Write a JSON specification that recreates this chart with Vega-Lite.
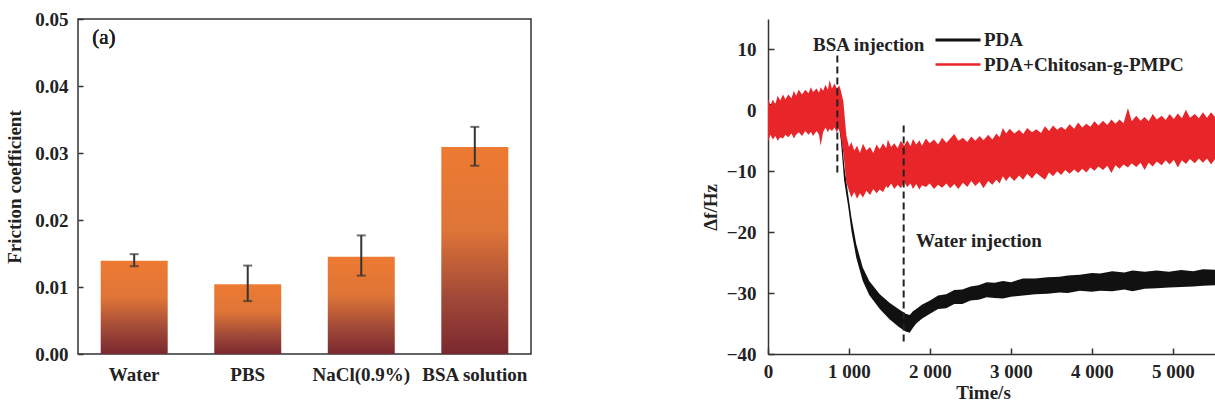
{
  "$schema": "https://vega.github.io/schema/vega-lite/v6.json",
  "background": "white",
  "padding": {"left": 5, "top": 9, "right": 0, "bottom": 0},
  "config": {
    "font": "Liberation Serif, Times New Roman, DejaVu Serif, serif",
    "view": {"stroke": "#333", "strokeWidth": 1.5},
    "text": {"font": "Liberation Serif, Times New Roman, DejaVu Serif, serif"},
    "axis": {
      "labelFont": "Liberation Serif, Times New Roman, DejaVu Serif, serif", "labelFontWeight": "bold", "labelFontSize": 19, "labelColor": "#222",
      "titleFont": "Liberation Serif, Times New Roman, DejaVu Serif, serif", "titleFontWeight": "bold", "titleFontSize": 19, "titleColor": "#222",
      "grid": false, "domainColor": "#333", "tickColor": "#333", "domainWidth": 1.5, "tickWidth": 1.5,
      "labelFlush": false, "labelOverlap": false
    },
    "legend": {
      "labelFont": "Liberation Serif, Times New Roman, DejaVu Serif, serif", "labelFontSize": 19, "labelFontWeight": "bold",
      "labelColor": "#222", "symbolType": "stroke", "symbolSize": 2025, "symbolStrokeWidth": 3, "labelOffset": 2,
      "padding": 0, "labelLimit": 400
    }
  },
  "datasets": {
    "friction": [
      {"medium": "Water", "mean": 0.0139, "lo": 0.0131, "hi": 0.0149},
      {"medium": "PBS", "mean": 0.0104, "lo": 0.0079, "hi": 0.0132},
      {"medium": "NaCl(0.9%)", "mean": 0.0145, "lo": 0.0117, "hi": 0.0177},
      {"medium": "BSA solution", "mean": 0.0309, "lo": 0.0281, "hi": 0.0339}
    ],
    "pda": [
      {"t": 0, "lo": -2.0, "hi": 1.0}, {"t": 400, "lo": -1.5, "hi": 1.5}, {"t": 800, "lo": -1.0, "hi": 2.0},
      {"t": 870, "lo": -2.0, "hi": 1.0}, {"t": 900, "lo": -5.0, "hi": -2.0}, {"t": 940, "lo": -11.5, "hi": -9.0},
      {"t": 990, "lo": -15.8, "hi": -13.8}, {"t": 1030, "lo": -19.8, "hi": -17.6}, {"t": 1090, "lo": -24.2, "hi": -22.0},
      {"t": 1170, "lo": -28.0, "hi": -25.8}, {"t": 1250, "lo": -30.3, "hi": -28.0}, {"t": 1380, "lo": -32.6, "hi": -30.2},
      {"t": 1500, "lo": -34.3, "hi": -31.6}, {"t": 1620, "lo": -35.6, "hi": -32.7}, {"t": 1700, "lo": -36.3, "hi": -33.4},
      {"t": 1750, "lo": -36.5, "hi": -33.6}, {"t": 1790, "lo": -35.7, "hi": -33.0}, {"t": 1830, "lo": -35.0, "hi": -32.6},
      {"t": 1900, "lo": -34.2, "hi": -31.9}, {"t": 2000, "lo": -33.4, "hi": -31.2}, {"t": 2100, "lo": -32.6, "hi": -30.4},
      {"t": 2200, "lo": -32.5, "hi": -30.2}, {"t": 2300, "lo": -31.8, "hi": -29.5}, {"t": 2400, "lo": -31.8, "hi": -29.4},
      {"t": 2500, "lo": -31.2, "hi": -28.9}, {"t": 2600, "lo": -31.1, "hi": -28.7}, {"t": 2700, "lo": -30.7, "hi": -28.2},
      {"t": 2800, "lo": -30.8, "hi": -28.3}, {"t": 2900, "lo": -30.9, "hi": -28.0}, {"t": 3000, "lo": -30.6, "hi": -28.2},
      {"t": 3150, "lo": -30.4, "hi": -27.6}, {"t": 3300, "lo": -30.2, "hi": -27.6}, {"t": 3450, "lo": -30.1, "hi": -27.4},
      {"t": 3600, "lo": -29.9, "hi": -27.3}, {"t": 3700, "lo": -30.0, "hi": -27.1}, {"t": 3850, "lo": -29.6, "hi": -27.0},
      {"t": 4000, "lo": -29.8, "hi": -26.7}, {"t": 4100, "lo": -29.6, "hi": -26.8}, {"t": 4250, "lo": -29.7, "hi": -26.4},
      {"t": 4400, "lo": -29.4, "hi": -26.6}, {"t": 4500, "lo": -29.7, "hi": -26.3}, {"t": 4650, "lo": -29.3, "hi": -26.5},
      {"t": 4800, "lo": -29.2, "hi": -26.3}, {"t": 4950, "lo": -29.1, "hi": -26.5}, {"t": 5100, "lo": -29.0, "hi": -26.2},
      {"t": 5250, "lo": -28.9, "hi": -26.4}, {"t": 5370, "lo": -28.8, "hi": -26.1}, {"t": 5556, "lo": -28.7, "hi": -26.2}
    ],
    "pmpc": [
      {"t": 0, "lo": -5.2, "hi": 2.0}, {"t": 30, "lo": -4.0, "hi": 0.8}, {"t": 60, "lo": -4.8, "hi": 1.8},
      {"t": 90, "lo": -4.2, "hi": 1.0}, {"t": 120, "lo": -5.0, "hi": 2.4}, {"t": 150, "lo": -4.4, "hi": 1.6},
      {"t": 185, "lo": -4.6, "hi": 2.6}, {"t": 215, "lo": -4.0, "hi": 1.8}, {"t": 250, "lo": -4.4, "hi": 2.6},
      {"t": 290, "lo": -3.8, "hi": 2.0}, {"t": 320, "lo": -4.6, "hi": 3.2}, {"t": 346, "lo": -4.0, "hi": 2.4},
      {"t": 380, "lo": -3.6, "hi": 3.4}, {"t": 420, "lo": -4.2, "hi": 2.6}, {"t": 460, "lo": -3.4, "hi": 3.4},
      {"t": 500, "lo": -4.0, "hi": 2.8}, {"t": 530, "lo": -3.5, "hi": 3.8}, {"t": 556, "lo": -4.2, "hi": 3.0},
      {"t": 600, "lo": -3.4, "hi": 3.6}, {"t": 630, "lo": -4.0, "hi": 2.9}, {"t": 650, "lo": -5.8, "hi": 3.8},
      {"t": 680, "lo": -3.6, "hi": 3.2}, {"t": 710, "lo": -2.8, "hi": 4.2}, {"t": 740, "lo": -3.6, "hi": 3.4},
      {"t": 760, "lo": -3.0, "hi": 5.0}, {"t": 790, "lo": -3.4, "hi": 3.6}, {"t": 820, "lo": -2.8, "hi": 4.4},
      {"t": 850, "lo": -3.6, "hi": 3.6}, {"t": 880, "lo": -2.9, "hi": 4.1}, {"t": 900, "lo": -4.5, "hi": 3.2},
      {"t": 930, "lo": -7.0, "hi": 1.5}, {"t": 967, "lo": -11.8, "hi": -4.1}, {"t": 1000, "lo": -13.2, "hi": -6.0},
      {"t": 1029, "lo": -14.3, "hi": -5.2}, {"t": 1065, "lo": -13.4, "hi": -6.6}, {"t": 1100, "lo": -14.5, "hi": -5.8},
      {"t": 1135, "lo": -13.6, "hi": -7.0}, {"t": 1173, "lo": -14.3, "hi": -5.5}, {"t": 1215, "lo": -13.2, "hi": -6.6},
      {"t": 1260, "lo": -13.9, "hi": -6.0}, {"t": 1300, "lo": -12.9, "hi": -7.0}, {"t": 1340, "lo": -13.6, "hi": -5.6},
      {"t": 1379, "lo": -13.0, "hi": -6.4}, {"t": 1420, "lo": -13.4, "hi": -5.4}, {"t": 1460, "lo": -12.4, "hi": -6.2},
      {"t": 1480, "lo": -12.8, "hi": -4.8}, {"t": 1520, "lo": -12.0, "hi": -6.0}, {"t": 1560, "lo": -12.9, "hi": -5.4},
      {"t": 1600, "lo": -12.2, "hi": -6.2}, {"t": 1640, "lo": -12.8, "hi": -5.0}, {"t": 1680, "lo": -11.8, "hi": -5.8},
      {"t": 1720, "lo": -12.6, "hi": -4.9}, {"t": 1760, "lo": -12.0, "hi": -5.9}, {"t": 1790, "lo": -12.9, "hi": -4.7},
      {"t": 1830, "lo": -12.1, "hi": -5.6}, {"t": 1870, "lo": -13.0, "hi": -4.9}, {"t": 1900, "lo": -12.3, "hi": -5.8},
      {"t": 1950, "lo": -12.6, "hi": -4.6}, {"t": 1996, "lo": -12.0, "hi": -5.4}, {"t": 2050, "lo": -12.9, "hi": -4.8},
      {"t": 2100, "lo": -12.2, "hi": -5.6}, {"t": 2150, "lo": -12.7, "hi": -4.5}, {"t": 2202, "lo": -12.0, "hi": -5.3},
      {"t": 2250, "lo": -12.8, "hi": -4.6}, {"t": 2300, "lo": -12.1, "hi": -3.9}, {"t": 2350, "lo": -12.9, "hi": -5.0},
      {"t": 2407, "lo": -11.9, "hi": -4.5}, {"t": 2460, "lo": -12.6, "hi": -5.2}, {"t": 2510, "lo": -11.6, "hi": -4.3},
      {"t": 2560, "lo": -12.4, "hi": -5.0}, {"t": 2613, "lo": -11.7, "hi": -4.2}, {"t": 2660, "lo": -12.8, "hi": -4.9},
      {"t": 2719, "lo": -11.6, "hi": -4.0}, {"t": 2770, "lo": -12.2, "hi": -4.8}, {"t": 2819, "lo": -11.4, "hi": -3.8},
      {"t": 2860, "lo": -12.0, "hi": -4.4}, {"t": 2900, "lo": -10.8, "hi": -2.9}, {"t": 2940, "lo": -11.6, "hi": -3.8},
      {"t": 2984, "lo": -10.8, "hi": -3.0}, {"t": 3040, "lo": -11.6, "hi": -3.8}, {"t": 3100, "lo": -10.7, "hi": -3.2},
      {"t": 3150, "lo": -11.4, "hi": -3.9}, {"t": 3200, "lo": -10.4, "hi": -2.9}, {"t": 3260, "lo": -11.2, "hi": -3.6},
      {"t": 3313, "lo": -10.3, "hi": -3.1}, {"t": 3370, "lo": -10.9, "hi": -3.7}, {"t": 3420, "lo": -11.4, "hi": -2.6},
      {"t": 3470, "lo": -10.2, "hi": -3.4}, {"t": 3520, "lo": -10.8, "hi": -2.5}, {"t": 3570, "lo": -10.0, "hi": -3.2},
      {"t": 3620, "lo": -10.6, "hi": -2.7}, {"t": 3670, "lo": -9.8, "hi": -3.2}, {"t": 3724, "lo": -10.4, "hi": -2.3},
      {"t": 3780, "lo": -9.7, "hi": -3.0}, {"t": 3830, "lo": -10.3, "hi": -2.0}, {"t": 3880, "lo": -9.6, "hi": -2.8},
      {"t": 3930, "lo": -10.2, "hi": -2.2}, {"t": 3980, "lo": -9.4, "hi": -2.7}, {"t": 4030, "lo": -9.9, "hi": -1.8},
      {"t": 4080, "lo": -9.2, "hi": -2.5}, {"t": 4136, "lo": -9.8, "hi": -1.7}, {"t": 4190, "lo": -9.1, "hi": -2.4},
      {"t": 4240, "lo": -10.3, "hi": -1.5}, {"t": 4290, "lo": -9.0, "hi": -2.2}, {"t": 4340, "lo": -9.6, "hi": -1.5},
      {"t": 4390, "lo": -8.9, "hi": -2.1}, {"t": 4444, "lo": -9.4, "hi": 0.4}, {"t": 4490, "lo": -8.7, "hi": -1.8},
      {"t": 4547, "lo": -9.3, "hi": -0.9}, {"t": 4600, "lo": -8.6, "hi": -1.7}, {"t": 4650, "lo": -9.8, "hi": -1.1},
      {"t": 4700, "lo": -8.6, "hi": -1.8}, {"t": 4750, "lo": -9.2, "hi": -0.6}, {"t": 4800, "lo": -8.4, "hi": -1.5},
      {"t": 4860, "lo": -9.0, "hi": -0.9}, {"t": 4910, "lo": -8.2, "hi": -1.6}, {"t": 4959, "lo": -8.9, "hi": -0.6},
      {"t": 5010, "lo": -8.1, "hi": -1.4}, {"t": 5060, "lo": -9.4, "hi": -0.5}, {"t": 5110, "lo": -8.2, "hi": -1.3},
      {"t": 5160, "lo": -8.8, "hi": 0.1}, {"t": 5210, "lo": -8.0, "hi": -1.2}, {"t": 5270, "lo": -8.7, "hi": -0.6},
      {"t": 5320, "lo": -7.9, "hi": -1.3}, {"t": 5370, "lo": -8.6, "hi": -0.3}, {"t": 5420, "lo": -7.9, "hi": -1.2},
      {"t": 5470, "lo": -8.9, "hi": -0.3}, {"t": 5520, "lo": -8.0, "hi": -1.1}, {"t": 5556, "lo": -8.5, "hi": -0.6}
    ],
    "centers_pda": [
      {"series": "PDA", "t": 2000, "v": -32.3}, {"series": "PDA", "t": 3000, "v": -29.4}
    ],
    "centers_pmpc": [
      {"series": "PDA+Chitosan-g-PMPC", "t": 2000, "v": -8.6}, {"series": "PDA+Chitosan-g-PMPC", "t": 3000, "v": -7.2}
    ],
    "injections": [
      {"event": "BSA injection", "t": 856, "top": 9.0, "bottom": -10.2, "labelT": 556, "labelV": 9.7},
      {"event": "Water injection", "t": 1675, "top": -2.5, "bottom": -38.0, "labelT": 1827, "labelV": -22.4}
    ]
  },
  "hconcat": [
    {
      "width": 453,
      "height": 335,
      "data": {"name": "friction"},
      "layer": [
        {
          "mark": {
            "type": "bar",
            "color": {
              "gradient": "linear", "x1": 0, "y1": 0, "x2": 0, "y2": 1,
              "stops": [
                {"offset": 0, "color": "#EE7A32"},
                {"offset": 0.4, "color": "#DE7538"},
                {"offset": 0.72, "color": "#A24A38"},
                {"offset": 1, "color": "#7A2830"}
              ]
            }
          },
          "encoding": {
            "x": {
              "field": "medium", "type": "nominal", "sort": null,
              "scale": {"paddingInner": 0.41, "paddingOuter": 0.2},
              "axis": {"title": null, "labelAngle": 0, "ticks": false, "domain": false, "labelPadding": 11}
            },
            "y": {
              "field": "mean", "type": "quantitative",
              "scale": {"domain": [0, 0.05], "nice": false},
              "axis": {
                "title": "Friction coefficient", "values": [0, 0.01, 0.02, 0.03, 0.04, 0.05], "format": ".2f",
                "tickSize": -5, "labelPadding": 15, "titlePadding": 10, "domain": false
              }
            }
          }
        },
        {
          "mark": {"type": "rule", "color": "#333", "strokeWidth": 2},
          "encoding": {
            "x": {"field": "medium", "type": "nominal", "sort": null},
            "y": {"field": "lo", "type": "quantitative"},
            "y2": {"field": "hi"}
          }
        },
        {
          "mark": {"type": "tick", "color": "#333", "thickness": 2, "size": 9},
          "encoding": {
            "x": {"field": "medium", "type": "nominal", "sort": null},
            "y": {"field": "lo", "type": "quantitative"}
          }
        },
        {
          "mark": {"type": "tick", "color": "#333", "thickness": 2, "size": 9},
          "encoding": {
            "x": {"field": "medium", "type": "nominal", "sort": null},
            "y": {"field": "hi", "type": "quantitative"}
          }
        },
        {
          "mark": {"type": "text", "text": "(a)", "fontSize": 21, "fontWeight": "normal", "color": "#222", "align": "left", "baseline": "middle", "dx": -42},
          "encoding": {
            "x": {"datum": "Water"},
            "y": {"datum": 0.0472}
          }
        }
      ]
    },
    {
      "width": 450,
      "height": 335,
      "view": {"stroke": null},
      "layer": [
        {
          "data": {"name": "centers_pda"},
          "mark": {"type": "line", "strokeWidth": 1},
          "encoding": {
            "x": {
              "field": "t", "type": "quantitative",
              "scale": {"domain": [0, 5556], "nice": false},
              "axis": {
                "title": "Time/s", "values": [0, 1000, 2000, 3000, 4000, 5000],
                "labelExpr": "replace(format(datum.value, ','), ',', ' ')",
                "tickSize": -6, "labelPadding": 14, "titlePadding": 2, "titleX": 215
              }
            },
            "y": {
              "field": "v", "type": "quantitative",
              "scale": {"domain": [-40, 15], "nice": false},
              "axis": {
                "title": "Δf/Hz", "values": [-40, -30, -20, -10, 0, 10],
                "labelExpr": "replace(format(datum.value, 'd'), '-', '−')",
                "tickSize": -6, "labelPadding": 18, "titlePadding": 6, "titleY": 188
              }
            },
            "color": {
              "field": "series", "type": "nominal",
              "scale": {"domain": ["PDA"], "range": ["#111111"]},
              "legend": {"title": null, "orient": "none", "legendX": 856, "legendY": -3}
            }
          }
        },
        {
          "data": {"name": "centers_pmpc"},
          "mark": {"type": "line", "strokeWidth": 1},
          "encoding": {
            "x": {"field": "t", "type": "quantitative"},
            "y": {"field": "v", "type": "quantitative"},
            "stroke": {
              "field": "series", "type": "nominal",
              "scale": {"domain": ["PDA+Chitosan-g-PMPC"], "range": ["#E8262A"]},
              "legend": {"title": null, "orient": "none", "legendX": 856, "legendY": 21.5, "symbolStrokeWidth": 2.5}
            }
          }
        },
        {
          "data": {"name": "pda"},
          "mark": {"type": "area", "color": "#111111", "opacity": 1},
          "encoding": {
            "x": {"field": "t", "type": "quantitative"},
            "y": {"field": "lo", "type": "quantitative"},
            "y2": {"field": "hi"}
          }
        },
        {
          "data": {"name": "pmpc"},
          "mark": {"type": "area", "color": "#E8262A", "opacity": 1},
          "encoding": {
            "x": {"field": "t", "type": "quantitative"},
            "y": {"field": "lo", "type": "quantitative"},
            "y2": {"field": "hi"}
          }
        },
        {
          "data": {"name": "injections"},
          "mark": {"type": "rule", "color": "#222", "strokeWidth": 2, "strokeDash": [7, 4]},
          "encoding": {
            "x": {"field": "t", "type": "quantitative"},
            "y": {"field": "top", "type": "quantitative"},
            "y2": {"field": "bottom"}
          }
        },
        {
          "data": {"name": "injections"},
          "mark": {"type": "text", "fontSize": 19, "fontWeight": "bold", "color": "#222", "align": "left", "baseline": "alphabetic"},
          "encoding": {
            "x": {"field": "labelT", "type": "quantitative"},
            "y": {"field": "labelV", "type": "quantitative"},
            "text": {"field": "event"}
          }
        },
        {
          "mark": {"type": "text", "text": "(b)", "fontSize": 21, "fontWeight": "normal", "color": "#222", "align": "left", "baseline": "middle"},
          "encoding": {
            "x": {"datum": 148},
            "y": {"datum": 11.9}
          }
        },
        {
          "mark": {"type": "rule", "color": "#333", "strokeWidth": 1.5},
          "encoding": {
            "y": {"datum": 15}
          }
        }
      ]
    }
  ],
  "spacing": 169
}
